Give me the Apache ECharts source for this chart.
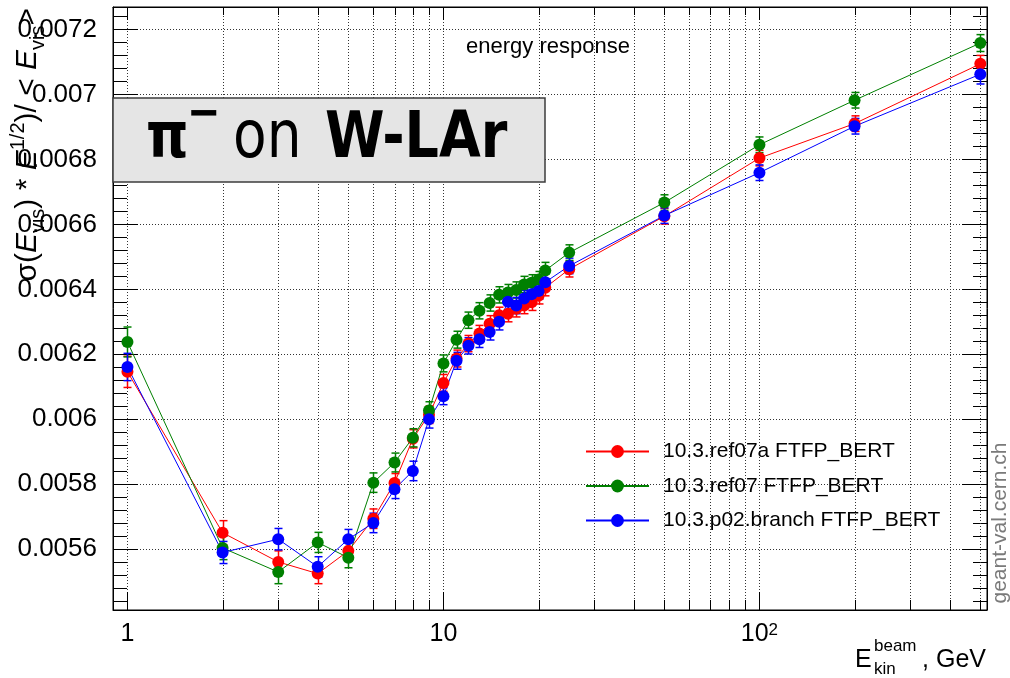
<!DOCTYPE html>
<html><head><meta charset="utf-8">
<script src="https://cdn.jsdelivr.net/npm/echarts@6/dist/echarts.min.js"></script>
<style>html,body{margin:0;padding:0;background:#fff}#c{width:1010px;height:678px}</style>
</head><body><div id="c"></div>
<script>
// ---- data ----
const energies = [1,2,3,4,5,6,7,8,9,10,11,12,13,14,15,16,17,18,19,20,21,25,50,100,200,500];
const ref07a = [0.006146,0.005651,0.005561,0.005525,0.005595,0.005694,0.005804,0.005940,0.006014,0.006112,0.006187,0.006233,0.006264,0.006294,0.006320,0.006325,0.006340,0.006350,0.006360,0.006380,0.006405,0.006462,0.006625,0.006804,0.006910,0.007094];
const ref07aErr = [0.000048,0.000037,0.000034,0.000031,0.000031,0.000030,0.000029,0.000028,0.000027,0.000026,0.000026,0.000025,0.000025,0.000025,0.000025,0.000025,0.000025,0.000025,0.000025,0.000025,0.000025,0.000024,0.000024,0.000024,0.000024,0.000026];
const ref07 = [0.006238,0.005604,0.005530,0.005621,0.005574,0.005805,0.005867,0.005943,0.006027,0.006172,0.006245,0.006305,0.006334,0.006358,0.006383,0.006390,0.006398,0.006415,0.006420,0.006430,0.006458,0.006513,0.006667,0.006845,0.006982,0.007158];
const ref07Err = [0.000046,0.000036,0.000036,0.000031,0.000031,0.000030,0.000029,0.000028,0.000027,0.000026,0.000026,0.000025,0.000025,0.000025,0.000025,0.000025,0.000025,0.000025,0.000025,0.000025,0.000025,0.000024,0.000024,0.000024,0.000024,0.000026];
const p02 = [0.006161,0.005590,0.005631,0.005546,0.005631,0.005681,0.005785,0.005841,0.006000,0.006071,0.006180,0.006226,0.006246,0.006269,0.006300,0.006362,0.006350,0.006372,0.006385,0.006395,0.006422,0.006472,0.006627,0.006759,0.006902,0.007062];
const p02Err = [0.000042,0.000034,0.000033,0.000031,0.000030,0.000030,0.000029,0.000030,0.000027,0.000026,0.000026,0.000025,0.000025,0.000025,0.000025,0.000025,0.000025,0.000025,0.000025,0.000025,0.000025,0.000024,0.000024,0.000024,0.000024,0.000030];
const seriesNames = ['10.3.ref07a FTFP_BERT','10.3.ref07 FTFP_BERT','10.3.p02.branch FTFP_BERT'];
const seriesColors = ['#ff0000','#008000','#0000ff'];
const xRange = [0.9, 525];
const yRange = [0.005413, 0.007269];
const yTickStep = 0.0002;
const xMinorTicks = [2,3,4,5,6,7,8,9,20,30,40,50,60,70,80,90,200,300,400,500];

// ---- chart ----
const FONT = 'Liberation Sans';
const chart = echarts.init(document.getElementById('c'), null, {renderer:'canvas', width:1010, height:678});

function errSeries(vals, errs, color){
  return {
    type:'custom', silent:true, z:3,
    data: energies.map((e,i)=>[e, vals[i], errs[i]]),
    encode:{x:0, y:1},
    renderItem(params, api){
      const x = api.value(0), y = api.value(1), e = api.value(2);
      const t = api.coord([x, y+e]), b = api.coord([x, y-e]);
      const cx = Math.round(t[0]) + 0.5, cap = 4;
      const st = {stroke:color, lineWidth:1.5};
      return {type:'group', children:[
        {type:'line', shape:{x1:cx, y1:t[1], x2:cx, y2:b[1]}, style:st},
        {type:'line', shape:{x1:cx-cap, y1:t[1], x2:cx+cap, y2:t[1]}, style:st},
        {type:'line', shape:{x1:cx-cap, y1:b[1], x2:cx+cap, y2:b[1]}, style:st}
      ]};
    }
  };
}
function lineSeries(name, vals, color){
  return {
    type:'line', name, z:4,
    data: energies.map((e,i)=>[e, vals[i]]),
    symbol:'circle', symbolSize:12, showSymbol:true,
    lineStyle:{width:1, color}, itemStyle:{color},
    emphasis:{disabled:true}
  };
}
const minorGrid = {
  type:'custom', silent:true, z:1,
  data: xMinorTicks.map(v=>[v, yRange[0]]),
  encode:{x:0, y:1},
  renderItem(params, api){
    const cs = params.coordSys;
    const px = Math.round(api.coord([api.value(0), api.value(1)])[0]) + 0.5;
    const top = cs.y, bot = cs.y + cs.height;
    return {type:'group', children:[
      {type:'line', shape:{x1:px, y1:top, x2:px, y2:bot}, style:{stroke:'#333', lineWidth:1, lineDash:[1,2]}},
      {type:'line', shape:{x1:px, y1:bot, x2:px, y2:bot-10}, style:{stroke:'#000', lineWidth:1}},
      {type:'line', shape:{x1:px, y1:top, x2:px, y2:top+8}, style:{stroke:'#000', lineWidth:1}}
    ]};
  }
};

function yLabel(v){
  const k = v / yTickStep;
  if (Math.abs(k - Math.round(k)) > 1e-6) return '';
  return String(+v.toFixed(4));
}
function xLabel(v){
  const l = Math.log10(v);
  if (Math.abs(l - Math.round(l)) > 1e-6) return '';
  const p = Math.round(l);
  if (p === 0) return '1';
  if (p === 1) return '10';
  return '10{sup|' + p + '}';
}

const splitDot = {show:true, lineStyle:{color:'#333', width:1, type:[1,2]}};
const yCommon = {type:'value', min:yRange[0], max:yRange[1], splitNumber:9, scale:true};
const xCommon = {type:'log', logBase:10, min:xRange[0], max:xRange[1]};

const option = {
  animation:false,
  backgroundColor:'#fff',
  grid:{left:113, right:23, top:7, bottom:68, show:true, borderColor:'#000', borderWidth:1, containLabel:false},
  xAxis:[
    Object.assign({}, xCommon, {
      position:'bottom',
      axisLine:{show:true, lineStyle:{color:'#000', width:1}},
      axisTick:{show:true, inside:true, length:18, lineStyle:{color:'#000'}},
      minorTick:{show:false},
      axisLabel:{show:true, margin:12, fontSize:25, fontFamily:FONT, color:'#000', formatter:xLabel,
        showMinLabel:false, showMaxLabel:false,
        rich:{sup:{fontSize:17, fontFamily:FONT, color:'#000', verticalAlign:'top', lineHeight:17}}},
      splitLine:splitDot
    }),
    Object.assign({}, xCommon, {
      position:'top',
      axisLine:{show:true, lineStyle:{color:'#000', width:1}},
      axisTick:{show:true, inside:true, length:13, lineStyle:{color:'#000'}},
      minorTick:{show:false},
      axisLabel:{show:false},
      splitLine:{show:false}
    })
  ],
  yAxis:[
    Object.assign({}, yCommon, {
      position:'left',
      axisLine:{show:true, lineStyle:{color:'#000', width:1}},
      axisTick:{show:true, inside:true, length:25, lineStyle:{color:'#000'}},
      minorTick:{show:true, splitNumber:5, length:14, lineStyle:{color:'#000'}},
      axisLabel:{show:true, margin:16, fontSize:26, fontFamily:FONT, color:'#000', formatter:yLabel},
      splitLine:splitDot
    }),
    Object.assign({}, yCommon, {
      position:'right',
      axisLine:{show:true, lineStyle:{color:'#000', width:1}},
      axisTick:{show:true, inside:true, length:25, lineStyle:{color:'#000'}},
      minorTick:{show:true, splitNumber:5, length:14, lineStyle:{color:'#000'}},
      axisLabel:{show:false},
      splitLine:{show:false}
    })
  ],
  legend:{
    data:seriesNames, orient:'vertical', left:585, top:441, padding:0,
    itemWidth:63, itemHeight:16, itemGap:13.5, selectedMode:false,
    textStyle:{fontSize:21, fontFamily:FONT, color:'#000', padding:[0,0,0,9]}
  },
  series:[
    minorGrid,
    errSeries(ref07a, ref07aErr, seriesColors[0]),
    lineSeries(seriesNames[0], ref07a, seriesColors[0]),
    errSeries(ref07, ref07Err, seriesColors[1]),
    lineSeries(seriesNames[1], ref07, seriesColors[1]),
    errSeries(p02, p02Err, seriesColors[2]),
    lineSeries(seriesNames[2], p02, seriesColors[2])
  ],
  graphic:[
    {type:'text', x:28, y:8, rotation:Math.PI/2, z:100, silent:true,
     style:{text:'{n|σ(}{i|E}{sub|vis}{n|) * }{i|E}{sup|1/2}{n|)/ < }{i|E}{sub|vis}{n|>}',
       align:'right', verticalAlign:'middle', fill:'#000',
       rich:{
         n:{fontSize:30, fontFamily:FONT, lineHeight:40, fill:'#000'},
         i:{fontSize:30, fontFamily:FONT, fontStyle:'italic', lineHeight:40, fill:'#000'},
         sub:{fontSize:20, fontFamily:FONT, lineHeight:20, verticalAlign:'bottom', fill:'#000'},
         sup:{fontSize:20, fontFamily:FONT, lineHeight:20, verticalAlign:'top', fill:'#000'}
       }}},
    {type:'text', x:548, y:47, z:100, silent:true,
     style:{text:'energy response', fontSize:22, fontFamily:FONT, fill:'#000', align:'center', verticalAlign:'middle'}},
    {type:'rect', z:50, silent:true, shape:{x:113, y:98, width:432, height:84},
     style:{fill:'#e5e5e5', stroke:'#3c3c3c', lineWidth:1.5}},
    {type:'text', x:146, y:140, scaleY:1.2, z:51, silent:true,
     style:{text:'π', fontSize:54, fontWeight:'bold', fontFamily:'DejaVu Sans', fill:'#000', align:'left', verticalAlign:'middle'}},
    {type:'text', x:187, y:116, scaleY:1.2, z:51, silent:true,
     style:{text:'−', fontSize:40, fontWeight:'bold', fontFamily:'DejaVu Sans', fill:'#000', align:'left', verticalAlign:'middle'}},
    {type:'text', x:233, y:140, scaleY:1.2, z:51, silent:true,
     style:{text:'on', fontSize:55, fontFamily:'DejaVu Sans', fill:'#000', align:'left', verticalAlign:'middle'}},
    {type:'text', x:325, y:140, scaleY:1.2, z:51, silent:true,
     style:{text:'W-LAr', fontSize:54, fontWeight:'bold', fontFamily:'DejaVu Sans', fill:'#000', align:'left', verticalAlign:'middle'}},
    {type:'text', x:855, y:660, z:100, silent:true,
     style:{text:'E', fontSize:25, fontFamily:FONT, fill:'#000', align:'left', verticalAlign:'middle'}},
    {type:'text', x:874, y:646, z:100, silent:true,
     style:{text:'beam', fontSize:17, fontFamily:FONT, fill:'#000', align:'left', verticalAlign:'middle'}},
    {type:'text', x:874, y:669, z:100, silent:true,
     style:{text:'kin', fontSize:17, fontFamily:FONT, fill:'#000', align:'left', verticalAlign:'middle'}},
    {type:'text', x:986, y:660, z:100, silent:true,
     style:{text:', GeV', fontSize:25, fontFamily:FONT, fill:'#000', align:'right', verticalAlign:'middle'}},
    {type:'text', x:1000, y:523, rotation:Math.PI/2, z:100, silent:true,
     style:{text:'geant-val.cern.ch', fontSize:21, fontFamily:FONT, fill:'#7a7a7a', align:'center', verticalAlign:'middle'}}
  ]
};
chart.setOption(option);
</script>
</body></html>
